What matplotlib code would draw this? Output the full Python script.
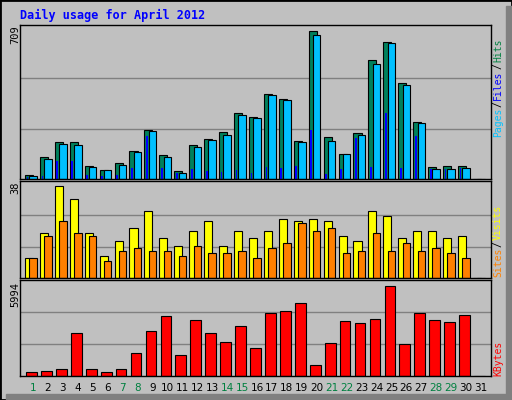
import numpy as np
import matplotlib
matplotlib.use("Agg")
from matplotlib import pyplot as plt
from matplotlib.patches import Rectangle

days = list(range(1, 32))
weekend = [1, 7, 8, 14, 15, 21, 22, 28, 29]

hits = [18, 103, 176, 176, 64, 45, 78, 134, 236, 115, 36, 162, 190, 227, 317, 297,
        409, 381, 180, 709, 199, 120, 218, 568, 656, 460, 275, 56, 61, 64, 0]
files = [14, 96, 166, 162, 59, 41, 68, 129, 232, 106, 27, 152, 185, 213, 308, 290,
         404, 376, 176, 690, 180, 120, 213, 553, 651, 451, 269, 50, 50, 55, 0]
pages = [9, 12, 85, 85, 17, 12, 17, 53, 204, 53, 27, 48, 39, 34, 43, 29,
         57, 53, 64, 236, 25, 48, 194, 57, 314, 53, 204, 48, 48, 53, 0]
visits = [8, 18, 37, 32, 18, 9, 15, 20, 27, 16, 13, 19, 23, 13, 19, 16,
          19, 24, 23, 24, 23, 17, 15, 27, 25, 16, 19, 19, 16, 17, 0]
sites = [8, 17, 23, 18, 17, 7, 11, 12, 11, 11, 9, 13, 10, 10, 11, 8,
         12, 14, 22, 19, 20, 10, 11, 18, 11, 14, 11, 12, 10, 8, 0]
kbytes = [281, 346, 476, 2878, 476, 281, 476, 1515, 3008, 3982, 1385, 3722, 2878, 2294,
          3333, 1904, 4177, 4371, 4891, 736, 2229, 3657, 3527, 3787, 5994, 2164,
          4177, 3722, 3592, 4047, 0]

GRAY = "#C0C0C0"
W, H = 512, 400
fig = plt.figure(figsize=(5.12, 4.0), dpi=100, facecolor=GRAY)

def px_axes(x0, y0, x1, y1):
    return fig.add_axes([x0 / W, 1 - y1 / H, (x1 - x0) / W, (y1 - y0) / H])

# frame: black border, dark shadow right/bottom
fig.patches.append(Rectangle((0, 0), 1, 1, transform=fig.transFigure, fill=False,
                             edgecolor="black", linewidth=2))
fig.patches.append(Rectangle((506 / W, 0), 6 / W, 1 - 6 / H, transform=fig.transFigure,
                             color="#808080"))
fig.patches.append(Rectangle((6 / W, 0), 1, 6 / H, transform=fig.transFigure,
                             color="#808080"))

d = np.array(days)
xl = (0.13, 31.67)

def setup(ax, top, ymax):
    ax.set_facecolor(GRAY)
    ax.set_xlim(*xl)
    ax.set_ylim(0, ymax)
    ax.set_xticks([])
    ax.set_yticks([])
    for t in (top / 3, 2 * top / 3):
        ax.axhline(t, color="#808080", linewidth=1, zorder=0)
    for s in ax.spines.values():
        s.set_color("black")
        s.set_linewidth(1.0)

ax1 = px_axes(20, 25, 491, 179)
setup(ax1, 709 * 1.02, 709 * 1.04)
ax1.bar(d - 0.27, hits, width=0.54, color="#00805C", edgecolor="black", linewidth=0.8)
ax1.bar(d, files, width=0.5, color="#00C0FF", edgecolor="black", linewidth=0.8)
ax1.bar(d - 0.37, pages, width=0.12, color="#0000FF", linewidth=0)

ax2 = px_axes(20, 181, 491, 278)
setup(ax2, 38, 38 * 1.03)
ax2.bar(d - 0.27, visits, width=0.54, color="#FFFF00", edgecolor="black", linewidth=0.8)
ax2.bar(d, sites, width=0.5, color="#FF8000", edgecolor="black", linewidth=0.8)

ax3 = px_axes(20, 280, 491, 376)
setup(ax3, 5994 * 1.07, 5994 * 1.07)
ax3.bar(d - 0.1, kbytes, width=0.72, color="#FF0000", edgecolor="black", linewidth=0.8)

mono = "DejaVu Sans Mono"
fig.text(20 / W, 1 - 15 / H, "Daily usage for April 2012", color="#0000FF",
         fontsize=8.5, fontweight="bold", family=mono, va="center")

for y, lab in [(25, "709"), (181, "38"), (282, "5994")]:
    fig.text(15 / W, 1 - y / H, lab, rotation=90, fontsize=7.5, family=mono,
             ha="center", va="top")

for x in days:
    xp = 20 + (x - xl[0]) / (xl[1] - xl[0]) * 471
    fig.text(xp / W, 1 - 388 / H, str(x), fontsize=7.5, ha="center", va="center",
             color="#008040" if x in weekend else "black")

renderer = fig.canvas.get_renderer()

def vlabel(pieces, ybottom):
    # stack rotated pieces bottom to top, measuring each one
    y = ybottom
    for txt, col in pieces:
        t = fig.text(498 / W, 1 - y / H, txt, rotation=90, color=col, fontsize=7,
                     family=mono, ha="center", va="bottom")
        y -= t.get_window_extent(renderer).height + 1

vlabel([("Pages", "#00C0FF"), ("/", "black"), ("Files", "#0000FF"), ("/", "black"),
        ("Hits", "#008040")], 137)
vlabel([("Sites", "#FF8000"), ("/", "black"), ("Visits", "#FFFF00")], 277)
vlabel([("KBytes", "#FF0000")], 376)

fig.savefig("out.png", dpi=100, facecolor=GRAY)
